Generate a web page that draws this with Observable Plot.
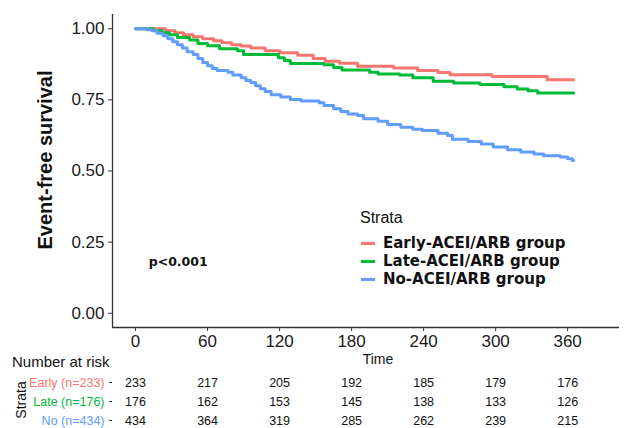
<!DOCTYPE html>
<html>
<head>
<meta charset="utf-8">
<script src="https://cdn.jsdelivr.net/npm/d3@7"></script>
<script src="https://cdn.jsdelivr.net/npm/@observablehq/plot@0.6"></script>
<style>
  html, body { margin: 0; padding: 0; background: #fff; }
  #wrap { position: relative; width: 624px; height: 428px; overflow: hidden; font-family: "Liberation Sans", Arial, sans-serif; color: #111; }
  #wrap svg { display: block; }
  .lbl { position: absolute; white-space: nowrap; line-height: 1; }
</style>
</head>
<body>
<div id="wrap"></div>
<script>
// ---- data ----
const strata = ["Early-ACEI/ARB group", "Late-ACEI/ARB group", "No-ACEI/ARB group"];
const riskLabels = ["Early (n=233)", "Late (n=176)", "No (n=434)"];
const colors = ["#F8766D", "#00BA38", "#619CFF"];
const times = [0, 60, 120, 180, 240, 300, 360];
const yTicks = [0, 0.25, 0.5, 0.75, 1];

const earlyDays = [0,25,33,40,48,56,65,72,80,88,96,108,120,135,148,158,170,185,215,235,252,262,297,343,365];
const earlySurv = [1,0.993,0.986,0.979,0.972,0.965,0.958,0.951,0.944,0.939,0.932,0.923,0.916,0.907,0.895,0.886,0.879,0.868,0.862,0.853,0.846,0.838,0.832,0.821,0.821];

const lateDays = [0,15,22,28,35,45,52,60,70,85,90,119,124,129,157,165,172,195,202,220,231,248,265,287,307,318,327,335,365];
const lateSurv = [1,0.993,0.986,0.979,0.969,0.960,0.948,0.940,0.930,0.923,0.909,0.898,0.888,0.878,0.873,0.864,0.855,0.847,0.841,0.837,0.828,0.815,0.809,0.804,0.796,0.788,0.782,0.774,0.774];

const noDays = [0,10,14,18,23,27,31,35,39,43,48,52,56,60,64,68,77,81,88,92,96,100,104,108,113,121,129,138,153,157,165,171,177,185,190,202,210,221,231,239,252,260,264,277,288,298,310,321,332,340,354,360,364,365];
const noSurv = [1,0.996,0.993,0.984,0.975,0.965,0.954,0.944,0.932,0.919,0.909,0.895,0.881,0.870,0.860,0.853,0.847,0.837,0.828,0.818,0.811,0.800,0.789,0.779,0.768,0.760,0.751,0.746,0.740,0.730,0.719,0.709,0.700,0.695,0.684,0.675,0.663,0.654,0.647,0.642,0.633,0.625,0.612,0.604,0.595,0.584,0.575,0.567,0.560,0.554,0.549,0.543,0.537,0.537];

const riskEarly = [233, 217, 205, 192, 185, 179, 176];
const riskLate = [176, 162, 153, 145, 138, 133, 126];
const riskNo = [434, 364, 319, 285, 262, 239, 215];

const pLabel = "p<0.001";
const pPos = {day: 11, surv: 0.18};

const xDomain = [-19.2, 403.2];
const yDomain = [-0.05, 1.05];

// ---- tables built from arrays ----
const curves = [
  ...earlyDays.map((d, i) => ({group: strata[0], day: d, surv: earlySurv[i]})),
  ...lateDays.map((d, i) => ({group: strata[1], day: d, surv: lateSurv[i]})),
  ...noDays.map((d, i) => ({group: strata[2], day: d, surv: noSurv[i]}))
];
const riskTable = [riskEarly, riskLate, riskNo].flatMap((arr, g) =>
  arr.map((n, i) => ({label: riskLabels[g], time: times[i], n})));

const font = "'Liberation Sans', Arial, sans-serif";
const axisCol = "#333333";

const main = Plot.plot({
  width: 624, height: 372,
  marginTop: 14, marginBottom: 45, marginLeft: 112, marginRight: 5,
  style: {fontFamily: font, background: "white", color: "#1a1a1a"},
  x: {domain: xDomain},
  y: {domain: yDomain},
  color: {domain: strata, range: colors},
  marks: [
    Plot.ruleX([xDomain[0]], {stroke: axisCol, strokeWidth: 1.3}),
    Plot.ruleY([yDomain[0]], {stroke: axisCol, strokeWidth: 1.3}),
    Plot.axisY({ticks: yTicks, tickFormat: d => d.toFixed(2), tickSize: 4, tickPadding: 4, fontSize: 17, label: null, stroke: axisCol, fill: "#1a1a1a"}),
    Plot.axisX({ticks: times, tickSize: 4, tickPadding: 3, fontSize: 17, label: null, stroke: axisCol, fill: "#1a1a1a"}),
    Plot.line(curves, {x: "day", y: "surv", z: "group", stroke: "group", curve: "step-after", strokeWidth: 3}),
    Plot.text([pLabel], {x: () => pPos.day, y: () => pPos.surv, text: d => d, textAnchor: "start", fontSize: 12.5, fontWeight: "bold", fontFamily: "'DejaVu Sans', Verdana, sans-serif", fill: "#111"})
  ]
});

const risk = Plot.plot({
  width: 624, height: 56,
  marginTop: 0, marginBottom: 0, marginLeft: 112, marginRight: 5,
  style: {fontFamily: font, background: "white", color: "#111"},
  x: {domain: xDomain, axis: null},
  y: {type: "point", domain: riskLabels, range: [10, 48], padding: 0},
  color: {domain: riskLabels, range: colors},
  marks: [
    Plot.axisY({tickSize: 3, tickFormat: () => "", label: null, stroke: axisCol}),
    Plot.text(riskLabels, {y: d => d, frameAnchor: "left", dx: -8, textAnchor: "end", fill: d => d, fontSize: 12.5}),
    Plot.text(riskTable, {x: "time", y: "label", text: "n", fontSize: 12.5, fill: "#111"})
  ]
});

const wrap = document.getElementById("wrap");
wrap.appendChild(main);
wrap.appendChild(risk);

function addLabel(text, css) {
  const el = document.createElement("div");
  el.className = "lbl";
  el.textContent = text;
  Object.assign(el.style, css);
  wrap.appendChild(el);
  return el;
}

// axis titles
addLabel("Event-free survival", {left: "45px", top: "160px", fontSize: "20px", fontWeight: "bold", transform: "translate(-50%,-50%) rotate(-90deg)"});
addLabel("Time", {left: "378px", top: "359px", fontSize: "14px", transform: "translate(-50%,-50%)"});
addLabel("Number at risk", {left: "12px", top: "361px", fontSize: "15px", transform: "translate(0,-50%)"});
addLabel("Strata", {left: "21px", top: "400px", fontSize: "14px", transform: "translate(-50%,-50%) rotate(-90deg)"});

// legend
addLabel("Strata", {left: "360px", top: "218px", fontSize: "16px", transform: "translate(0,-50%)"});
const legY = [243, 261, 279];
strata.forEach((s, i) => {
  const sw = document.createElement("div");
  Object.assign(sw.style, {position: "absolute", left: "361px", top: (legY[i] - 1.5) + "px", width: "14px", height: "3px", background: colors[i]});
  wrap.appendChild(sw);
  addLabel(s, {left: "383px", top: legY[i] + "px", fontSize: "15px", fontWeight: "bold", fontFamily: "'DejaVu Sans', Verdana, sans-serif", transform: "translate(0,-50%)"});
});
</script>
</body>
</html>
